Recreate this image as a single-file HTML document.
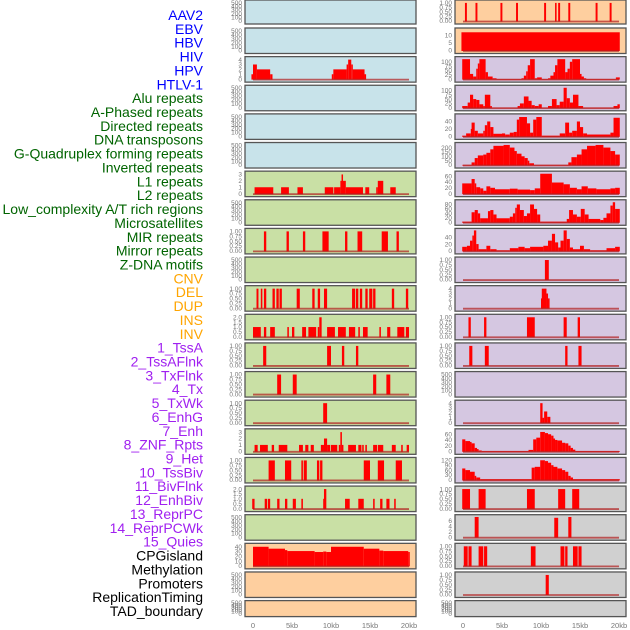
<!DOCTYPE html>
<html><head><meta charset="utf-8"><style>
body{margin:0;background:#fff;}
svg{display:block;font-family:"Liberation Sans",sans-serif;}
</style></head><body>
<svg id="chart" width="630" height="630" xmlns="http://www.w3.org/2000/svg"></svg>
<script>
// ---------- Data ----------
const rowLabels = ["AAV2","EBV","HBV","HIV","HPV","HTLV-1","Alu repeats","A-Phased repeats","Directed repeats","DNA transposons","G-Quadruplex forming repeats","Inverted repeats","L1 repeats","L2 repeats","Low_complexity A/T rich regions","Microsatellites","MIR repeats","Mirror repeats","Z-DNA motifs","CNV","DEL","DUP","INS","INV","1_TssA","2_TssAFlnk","3_TxFlnk","4_Tx","5_TxWk","6_EnhG","7_Enh","8_ZNF_Rpts","9_Het","10_TssBiv","11_BivFlnk","12_EnhBiv","13_ReprPC","14_ReprPCWk","15_Quies","CPGisland","Methylation","Promoters","ReplicationTiming","TAD_boundary"];
const labelColors = ["#0000ff","#006400","#ffa500","#a020f0","#000000"];
const labelGroups = [6,13,5,15,5];
const xTickValues = [0,5,10,15,20];
const xTickLabels = ["0","5kb","10kb","15kb","20kb"];

const T1 = [0,0.25,0.5,0.75,1], T1L = ["0.00","0.25","0.50","0.75","1.00"];
const TE = [0,100,200,300,400,500], TEL = ["0","100","200","300","400","500"];
const T2 = [0,0.5,1,1.5,2], T2L = ["0.0","0.5","1.0","1.5","2.0"];

// segments: [startKb, endKb, value]
const hivSegs = [[-0.2,0,1],[0,0.5,3],[0.5,2.2,2],[2.2,2.5,1],[10.1,10.3,1],[10.3,12,2],[12,12.2,3],[12.2,12.6,4],[12.6,12.8,3],[12.8,14.3,2],[14.3,14.5,1]];
const invertedSegs = [[0.2,2.6,1],[3.6,4.6,1],[5.7,6.4,1],[9.2,10.3,1],[10.4,11.2,1],[11.2,11.35,2],[11.35,11.5,3],[11.5,11.9,2],[11.9,14.1,1],[14.4,14.9,1],[15.8,16,1],[16,16.7,2],[17.6,18.3,1]];
const microSegs = [[1.4,1.7,1],[4.3,4.6,1],[6.4,6.7,1],[8.9,9.7,1],[11.8,12.1,1],[13.4,14,1],[16.5,17.3,1],[18.4,18.7,1]];
const cnvSegs = [[0.45,0.7,1],[1.0,1.2,1],[1.4,1.7,1],[2.5,2.8,1],[3.0,3.3,1],[3.4,3.7,1],[5.6,6.0,1],[7.6,7.9,1],[8.3,8.6,1],[9.1,9.5,1],[12.7,13.1,1],[13.2,13.5,1],[13.7,14.0,1],[14.4,14.7,1],[14.9,15.3,1],[15.4,15.7,1],[17.8,18.1,1],[19.6,19.9,1]];
const dupSegs = [[0,1.0,1],[1.4,1.7,1],[2.2,2.8,1],[4.4,4.6,1],[5.0,5.3,1],[6.3,6.8,1],[7.1,8.1,1],[8.3,8.5,1],[8.5,8.8,2],[9.5,10.5,1],[10.9,11.9,1],[12.3,13.1,1],[13.5,13.7,1],[14.1,14.7,1],[16.2,16.4,1],[17.2,17.6,1],[18.5,19.4,1],[19.6,20.0,1]];
const invSegs = [[1.3,1.7,1],[9.5,10.0,1],[11.4,11.7,1],[13.2,13.5,1]];
const tssaFlnkSegs = [[3.1,3.6,1],[5.1,5.6,1],[15.4,15.8,1],[17.1,17.6,1]];
const txSegs = [[9.0,9.5,1]];
const enhGSegs = [[0.2,0.6,1],[0.9,1.9,1],[2.4,2.7,1],[3.3,4.4,1],[5.9,6.4,1],[6.7,7.1,1],[7.4,7.8,1],[8.7,9.1,1],[9.1,9.5,2],[9.5,9.9,1],[10.0,10.8,1],[11.0,11.2,1],[11.2,11.4,3],[11.4,11.5,1],[12.2,13.2,1],[13.5,13.9,1],[14.0,14.2,1],[14.4,14.6,1],[15.4,15.9,1],[16.0,16.7,1],[17.8,18.3,1],[19.0,19.2,1],[19.7,20.0,1]];
const znfSegs = [[2.0,2.8,1],[4.1,4.9,1],[6.2,6.4,1],[6.5,6.9,1],[8.2,8.5,1],[8.6,8.9,1],[14.2,15.0,1],[16.0,16.8,1],[18.3,19.1,1]];
const tssBivSegs = [[-0.1,0.2,1],[1.5,1.8,1],[1.9,2.2,1],[3.1,3.4,1],[4.1,4.4,1],[5.1,5.5,1],[6.2,6.4,1],[9.0,9.1,1],[9.1,9.4,2],[11.8,12.4,1],[13.5,14.2,1],[15.4,15.6,1],[16.3,16.6,1],[17.1,17.5,1],[18.1,18.3,1]];
const cpgSegs = [[0,2.0,40],[2.0,4.1,36],[4.1,4.4,33],[4.4,7.9,31],[7.9,9.0,29],[9.0,9.4,30],[9.4,10.0,29],[10.0,14.2,40],[14.2,16.2,36],[16.2,16.7,32],[16.7,19.9,31],[19.9,20.1,29]];

const aavSegs = [[0.25,0.5,1],[1.6,1.85,1],[4.8,5.05,1],[6.8,7.05,1],[10.4,10.65,1],[11.8,12.0,1],[12.2,12.45,1],[13.5,13.75,1],[17.0,17.25,1],[18.8,19.05,1]];
const ebvSegs = [[-0.2,20.1,12]];
const hpvSegs = [[-0.1,0.9,115],[0.9,1.3,30],[1.3,1.7,15],[1.7,1.9,60],[1.9,2.1,90],[2.1,2.9,115],[2.9,3.2,40],[3.2,3.8,15],[3.8,4.3,5],[4.3,7.5,1],[7.5,7.8,5],[7.8,8.1,20],[8.1,8.3,45],[8.3,8.6,80],[8.6,9.2,115],[9.2,9.5,5],[9.5,10.1,10],[10.1,10.9,1],[10.9,11.2,5],[11.2,11.6,20],[11.6,11.8,40],[11.8,12.1,80],[12.1,13.1,115],[13.1,13.4,40],[13.4,13.7,60],[13.7,14.0,100],[14.0,15.0,115],[15.0,15.2,30],[15.2,15.5,15],[15.5,15.8,5],[15.8,19.6,1],[19.6,20.1,10]];
const aluSegs = [[-0.1,0.6,10],[0.6,0.9,30],[0.9,1.3,75],[1.3,1.7,50],[1.7,2.1,45],[2.1,2.6,20],[2.6,2.8,10],[2.8,3.5,75],[3.5,3.7,10],[3.7,7.0,1],[7.0,7.3,10],[7.3,7.8,25],[7.8,8.4,65],[8.4,8.8,40],[8.8,9.2,15],[9.2,9.7,10],[9.7,10.1,20],[10.1,10.9,1],[10.9,11.4,10],[11.4,12.0,50],[12.0,12.4,15],[12.4,12.9,35],[12.9,13.3,115],[13.3,13.7,55],[13.7,14.1,30],[14.1,14.8,75],[14.8,15.4,10],[15.4,19.3,1],[19.3,19.8,10],[19.8,20.1,20]];
const directedSegs = [[-0.1,0.4,2],[0.4,1.0,8],[1.0,1.1,20],[1.1,1.5,37],[1.5,1.9,15],[1.9,2.6,8],[2.6,2.8,15],[2.8,3.1,30],[3.1,3.5,40],[3.5,3.9,25],[3.9,5.0,7],[5.0,5.4,8],[5.4,6.0,5],[6.0,6.5,10],[6.5,6.9,12],[6.9,7.2,45],[7.2,8.2,52],[8.2,8.6,35],[8.6,9.0,10],[9.0,9.4,45],[9.4,10.1,52],[10.1,12.4,2],[12.4,13.1,8],[13.1,13.6,37],[13.6,14.0,10],[14.0,14.6,15],[14.6,15.0,40],[15.0,15.4,25],[15.4,15.9,8],[15.9,18.9,5],[18.9,19.3,10],[19.3,20.1,50]];
const g4Segs = [[-0.1,1.1,2],[1.1,1.5,30],[1.5,1.9,80],[1.9,2.6,110],[2.6,3.0,120],[3.0,3.5,140],[3.5,3.9,180],[3.9,5.2,220],[5.2,6.0,230],[6.0,6.6,200],[6.6,6.9,160],[6.9,7.5,130],[7.5,7.9,100],[7.9,8.3,80],[8.3,8.5,50],[8.5,9.1,20],[9.1,13.5,2],[13.5,13.9,30],[13.9,14.6,90],[14.6,15.2,120],[15.2,15.9,180],[15.9,17.0,220],[17.0,18.0,230],[18.0,18.9,200],[18.9,19.5,160],[19.5,20.1,120]];
const l1Segs = [[-0.1,1.1,35],[1.1,1.5,50],[1.5,1.7,35],[1.7,2.2,22],[2.2,2.6,18],[2.6,3.0,10],[3.0,3.5,25],[3.5,4.1,20],[4.1,6.0,15],[6.0,7.0,17],[7.0,8.6,14],[8.6,9.2,12],[9.2,9.9,18],[9.9,11.4,68],[11.4,12.9,38],[12.9,13.7,32],[13.7,14.6,20],[14.6,15.2,15],[15.2,16.0,25],[16.0,17.1,18],[17.1,18.9,15],[18.9,19.5,18],[19.5,20.1,20]];
const lowcSegs = [[-0.1,1.1,3],[1.1,1.5,45],[1.5,1.9,55],[1.9,2.2,40],[2.2,3.2,18],[3.2,3.5,50],[3.5,3.9,55],[3.9,4.3,35],[4.3,6.0,18],[6.0,6.4,25],[6.4,6.7,40],[6.7,6.9,65],[6.9,7.3,80],[7.3,7.8,55],[7.8,8.2,28],[8.2,8.6,40],[8.6,9.1,80],[9.1,9.5,60],[9.5,9.9,35],[9.9,13.3,3],[13.3,13.6,15],[13.6,14.1,55],[14.1,14.6,35],[14.6,15.1,25],[15.1,15.6,60],[15.6,16.1,35],[16.1,17.6,15],[17.6,18.0,10],[18.0,18.4,20],[18.4,18.9,40],[18.9,19.2,75],[19.2,19.5,90],[19.5,20.1,60]];
const mirSegs = [[-0.1,0.5,12],[0.5,0.9,15],[0.9,1.2,30],[1.2,1.4,45],[1.4,1.7,60],[1.7,2.0,20],[2.0,3.0,5],[3.0,3.5,15],[3.5,4.3,5],[4.3,6.0,2],[6.0,7.1,8],[7.1,7.9,12],[7.9,8.6,8],[8.6,10.3,12],[10.3,10.9,15],[10.9,11.4,30],[11.4,11.8,50],[11.8,12.2,25],[12.2,12.5,10],[12.5,12.9,30],[12.9,13.3,60],[13.3,13.7,35],[13.7,14.1,10],[14.1,15.0,5],[15.0,15.5,15],[15.5,16.3,5],[16.3,18.4,2],[18.4,19.5,8],[19.5,20.1,12]];
const zdnaSegs = [[10.5,11.0,1]];
const delSegs = [[10.0,10.1,2],[10.1,10.7,4],[10.7,10.9,3],[10.9,11.1,2]];
const insSegs = [[0.7,1.0,1],[2.7,3.0,1],[8.2,9.2,1],[12.9,13.3,1],[14.7,15.0,1]];
const tssaSegs = [[0.8,1.2,1],[2.8,3.3,1],[13.1,13.4,1],[14.8,15.2,1]];
const txwkSegs = [[9.9,10.2,4],[10.2,10.4,1],[10.4,10.8,2.3],[10.8,11.2,1.2]];
const enhSegs = [[-0.1,0.3,42],[0.3,0.9,36],[0.9,1.1,33],[1.1,1.5,28],[1.5,1.8,12],[1.8,2.0,8],[2.0,2.4,3],[2.4,8.4,1],[8.4,9.0,5],[9.0,9.4,42],[9.4,9.9,48],[9.9,10.5,68],[10.5,10.9,64],[10.9,11.3,60],[11.3,11.6,55],[11.6,11.8,45],[11.8,12.1,40],[12.1,12.7,38],[12.7,13.1,30],[13.1,13.5,28],[13.5,13.8,20],[13.8,14.1,12],[14.1,14.4,6],[14.4,20.1,1]];
const hetSegs = [[-0.1,0.3,70],[0.3,0.9,60],[0.9,1.5,50],[1.5,1.7,25],[1.7,2.2,15],[2.2,8.8,5],[8.8,9.2,75],[9.2,9.9,80],[9.9,10.5,120],[10.5,10.9,115],[10.9,11.3,105],[11.3,11.6,90],[11.6,12.1,80],[12.1,12.7,70],[12.7,13.1,60],[13.1,13.5,50],[13.5,13.8,25],[13.8,14.1,15],[14.1,20.1,5]];
const bivFlnkSegs = [[-0.1,0.9,1],[2.0,2.9,1],[8.2,9.2,1],[12.2,13.1,1],[14.0,14.9,1]];
const reprPCSegs = [[1.5,2.0,7.5],[11.7,12.2,7.2],[13.5,13.9,7.5]];
const quiesSegs = [[0.1,0.6,1],[0.7,1.1,1],[2.0,2.6,1],[2.7,3.1,1],[8.7,9.3,1],[12.5,13.0,1],[13.1,13.4,1],[14.1,14.7,1],[14.8,15.2,1]];
const methSegs = [[10.6,11.0,1]];

const BG = {blue:"#c8e3ea",green:"#c9e0a5",orange:"#fecf9f",purple:"#d5c7e1",grey:"#d0d0d0"};
// [col,row,bg,ylim,ticks,tickLabels,segs,name]
const panels = [
 [0,0,"blue",520,TE,TEL,null,"aav2-left"],[0,1,"blue",520,TE,TEL,null,"ebv-hbv-left"],
 [0,2,"blue",4.2,[0,1,2,3,4],["0","1","2","3","4"],hivSegs,"hiv-track"],
 [0,3,"blue",520,TE,TEL,null,"htlv-left"],[0,4,"blue",520,TE,TEL,null,"aphased-left"],[0,5,"blue",520,TE,TEL,null,"dna-transposons-left"],
 [0,6,"green",3.2,[0,1,2,3],["0","1","2","3"],invertedSegs,"inverted-repeats-track"],
 [0,7,"green",520,TE,TEL,null,"l2-left"],
 [0,8,"green",1.05,T1,T1L,microSegs,"microsatellites-track"],
 [0,9,"green",520,TE,TEL,null,"mirror-left"],
 [0,10,"green",1.05,T1,T1L,cnvSegs,"cnv-track"],
 [0,11,"green",2.1,T2,T2L,dupSegs,"dup-track"],
 [0,12,"green",1.05,T1,T1L,invSegs,"inv-track"],
 [0,13,"green",1.05,T1,T1L,tssaFlnkSegs,"tssaflnk-track"],
 [0,14,"green",1.05,T1,T1L,txSegs,"tx-track"],
 [0,15,"green",3.2,[0,1,2,3],["0","1","2","3"],enhGSegs,"enhg-track"],
 [0,16,"green",1.05,T1,T1L,znfSegs,"znf-track"],
 [0,17,"green",2.1,T2,T2L,tssBivSegs,"tssbiv-track"],
 [0,18,"green",520,TE,TEL,null,"enhbiv-left"],
 [0,19,"orange",43,[0,10,20,30,40],["0","10","20","30","40"],cpgSegs,"cpgisland-track"],
 [0,20,"orange",520,TE,TEL,null,"promoters-left"],[0,21,"orange",520,TE,TEL,null,"tad-left"],
 [1,0,"orange",1.05,T1,T1L,aavSegs,"aav2-track"],
 [1,1,"orange",13.5,[0,5,10],["0","5","10"],ebvSegs,"ebv-track"],
 [1,2,"purple",118,[0,25,50,75,100],["0","25","50","75","100"],hpvSegs,"hpv-track"],
 [1,3,"purple",118,[0,25,50,75,100],["0","25","50","75","100"],aluSegs,"alu-track"],
 [1,4,"purple",55,[0,20,40],["0","20","40"],directedSegs,"directed-repeats-track"],
 [1,5,"purple",235,[0,50,100,150,200],["0","50","100","150","200"],g4Segs,"g4-track"],
 [1,6,"purple",70,[0,20,40,60],["0","20","40","60"],l1Segs,"l1-track"],
 [1,7,"purple",92,[0,20,40,60,80],["0","20","40","60","80"],lowcSegs,"lowcomplexity-track"],
 [1,8,"purple",60,[0,20,40],["0","20","40"],mirSegs,"mir-track"],
 [1,9,"purple",1.05,T1,T1L,zdnaSegs,"zdna-track"],
 [1,10,"purple",4.2,[0,1,2,3,4],["0","1","2","3","4"],delSegs,"del-track"],
 [1,11,"purple",1.05,T1,T1L,insSegs,"ins-track"],
 [1,12,"purple",1.05,T1,T1L,tssaSegs,"tssa-track"],
 [1,13,"purple",520,TE,TEL,null,"txflnk-right"],
 [1,14,"purple",4.2,[0,1,2,3,4],["0","1","2","3","4"],txwkSegs,"txwk-track"],
 [1,15,"purple",72,[0,20,40,60],["0","20","40","60"],enhSegs,"enh-track"],
 [1,16,"purple",125,[0,30,60,90,120],["0","30","60","90","120"],hetSegs,"het-track"],
 [1,17,"grey",1.05,T1,T1L,bivFlnkSegs,"bivflnk-track"],
 [1,18,"grey",7.6,[0,2,4,6],["0","2","4","6"],reprPCSegs,"reprpc-track"],
 [1,19,"grey",1.05,T1,T1L,quiesSegs,"quies-track"],
 [1,20,"grey",1.05,T1,T1L,methSegs,"methylation-track"],
 [1,21,"grey",520,TE,TEL,null,"replication-tad-right"]
];

// ---------- Drawing ----------
const NS="http://www.w3.org/2000/svg";
const svg=document.getElementById('chart');
function mk(tag,attrs,parent){const e=document.createElementNS(NS,tag);for(const k in attrs)e.setAttribute(k,attrs[k]);(parent||svg).appendChild(e);return e;}
function rowTop(i){return i===0?0:28+(i-1)*28.63;}
function rowH(i){return i===0?24:(i===21?16:25.5);}
function xScale(kb,col){return (col?463:253)+kb*7.8;}

// labels
let li=0;
labelGroups.forEach((n,g)=>{for(let k=0;k<n;k++){const t=mk('text',{x:203,y:20+li*13.86,'text-anchor':'end','font-size':14,fill:labelColors[g]});


t.textContent=rowLabels[li];li++;}});

panels.forEach(p=>{
 const [col,row,bg,ylim,ticks,tl,segs,name]=p;
 const top=rowTop(row),h=rowH(row),bx=col?455:245,bw=171,bot=top+h;
 const g=mk('g',{});
 
 
 mk('rect',{x:bx,y:top,width:bw,height:h,fill:BG[bg]},g);
 const yS=v=>bot-3-v/ylim*(h-5);
 if(segs){
  segs.forEach(s=>{const x1=xScale(s[0],col),x2=xScale(s[1],col);const r=mk('rect',{x:x1,y:yS(s[2]),width:Math.max(1.5,x2-x1),height:bot-3-yS(s[2])+0.5,fill:'#ff0000'},g);
  
  });
  mk('line',{x1:xScale(0,col),x2:xScale(20,col),y1:bot-2.5,y2:bot-2.5,stroke:'#b02020','stroke-width':1.8,'stroke-opacity':0.7},g);
 }
 mk('rect',{x:bx,y:top,width:bw,height:h,fill:'none',stroke:'#555','stroke-width':1.3},g);
 ticks.forEach((v,i)=>{const t=mk('text',{x:bx-3,y:yS(v)+2.2,'text-anchor':'end','font-size':6.5,fill:'#777'},g);
  
  
  t.textContent=tl[i];});
});
[0,1].forEach(col=>{xTickValues.forEach((v,i)=>{const t=mk('text',{x:xScale(v,col),y:628,'text-anchor':'middle','font-size':7.5,fill:'#777'});
 
 
 t.textContent=xTickLabels[i];});});
</script>
</body></html>
